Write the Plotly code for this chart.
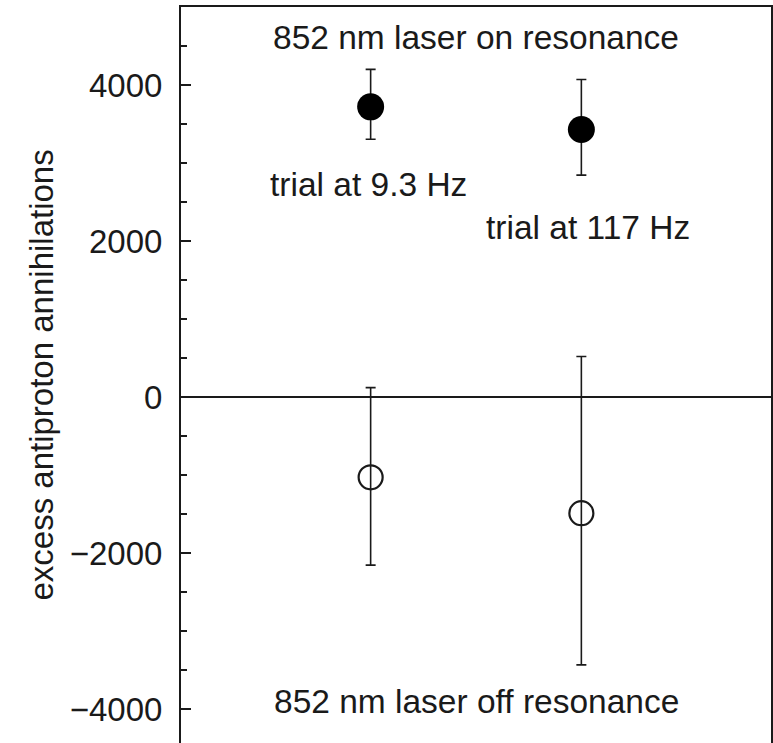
import plotly.graph_objects as go

# ---- data ----
trials = ["9.3 Hz", "117 Hz"]
on_res = [3720, 3430]
on_err_plus = [480, 640]
on_err_minus = [415, 585]
off_res = [-1030, -1490]
off_err_plus = [1150, 2010]
off_err_minus = [1125, 1945]

y_ticks = [-4000, -2000, 0, 2000, 4000]

FONT = "Liberation Sans, Arial, Helvetica, sans-serif"
INK = "#1a1a1a"

fig = go.Figure()

fig.add_trace(go.Scatter(
    x=trials, y=on_res, mode="markers",
    marker=dict(symbol="circle", size=27, color="black", line=dict(width=0)),
    error_y=dict(type="data", symmetric=False, array=on_err_plus, arrayminus=on_err_minus,
                 color=INK, thickness=1.6, width=5),
    showlegend=False, name="on resonance",
))
fig.add_trace(go.Scatter(
    x=trials, y=off_res, mode="markers",
    marker=dict(symbol="circle-open", size=24, color=INK, line=dict(width=2.2, color=INK)),
    error_y=dict(type="data", symmetric=False, array=off_err_plus, arrayminus=off_err_minus,
                 color=INK, thickness=1.6, width=5),
    showlegend=False, name="off resonance",
))

ann_font = dict(family=FONT, size=33.5, color=INK)
fig.add_annotation(x=0.5, xref="x", y=4615, yref="y", text="852 nm laser on resonance",
                   showarrow=False, xanchor="center", yanchor="middle", font=ann_font)
fig.add_annotation(x=-0.485, xref="x", y=2724, yref="y", text="trial at 9.3 Hz",
                   showarrow=False, xanchor="left", yanchor="middle", font=ann_font)
fig.add_annotation(x=0.54, xref="x", y=2167, yref="y", text="trial at 117 Hz",
                   showarrow=False, xanchor="left", yanchor="middle", font=ann_font)
fig.add_annotation(x=0.5, xref="x", y=-3904, yref="y", text="852 nm laser off resonance",
                   showarrow=False, xanchor="center", yanchor="middle", font=ann_font)
fig.add_annotation(x=-0.238, xref="paper", y=0.5, yref="paper",
                   text="excess antiproton annihilations", textangle=-90,
                   showarrow=False, xanchor="center", yanchor="middle",
                   font=dict(family=FONT, size=33, color=INK))

fig.update_layout(
    width=773, height=743,
    margin=dict(l=181, r=2, t=7, b=0),
    paper_bgcolor="white", plot_bgcolor="white",
    font=dict(family=FONT, size=33, color=INK),
    xaxis=dict(type="category", range=[-0.9, 1.9], side="top",
               showline=True, linewidth=2, linecolor=INK, mirror=False,
               showticklabels=False, ticks="", showgrid=False, zeroline=False,
               fixedrange=True),
    yaxis=dict(range=[-4436, 5000], tickvals=y_ticks,
               showline=True, linewidth=2, linecolor=INK, mirror=True,
               ticks="inside", ticklen=10, tickwidth=2, tickcolor=INK,
               minor=dict(ticks="inside", ticklen=6, tickwidth=2, tickcolor=INK, dtick=500),
               ticklabelstandoff=10,
               tickfont=dict(family=FONT, size=33, color=INK),
               showgrid=False, zeroline=True, zerolinecolor=INK, zerolinewidth=1.8,
               fixedrange=True),
)

fig.write_html("out.html")
